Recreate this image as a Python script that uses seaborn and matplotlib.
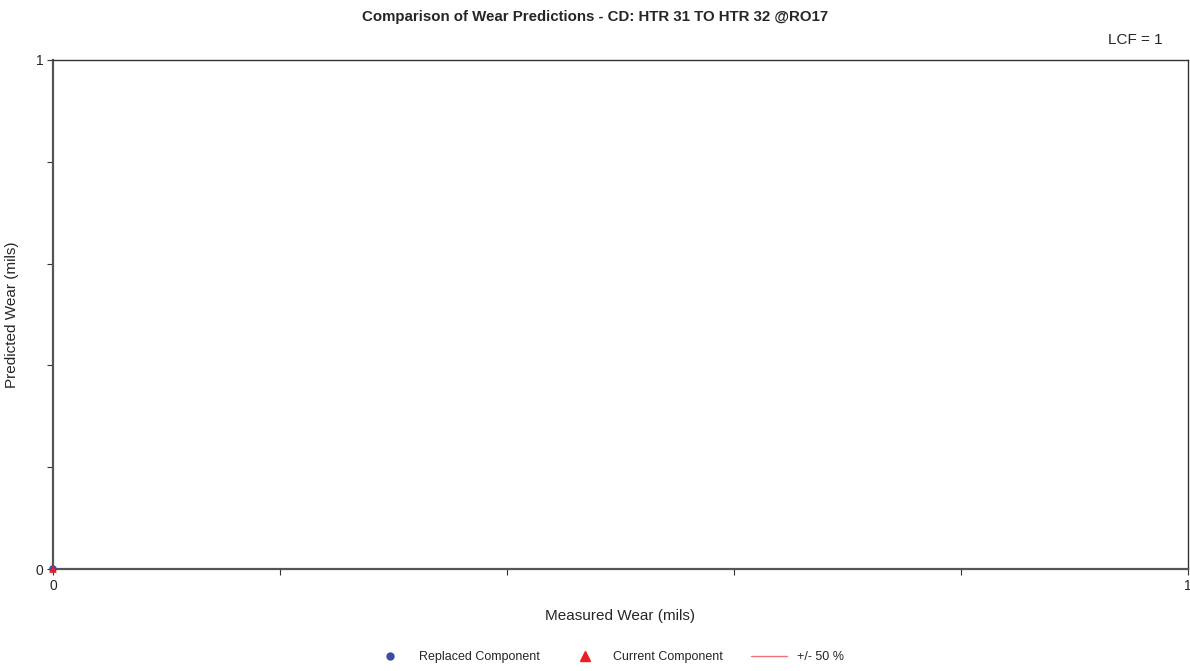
import matplotlib.pyplot as plt
import seaborn as sns
import pandas as pd
from matplotlib.lines import Line2D

sns.set_style("white")
plt.rcParams['font.family'] = ['Liberation Sans', 'DejaVu Sans']

# datos
medido_reemplazado = [0.0]
predicho_reemplazado = [0.0]
medido_actual = [0.0]
predicho_actual = [0.0]
banda_x = [0.0, 0.0]
banda_sup = [0.0, 0.0]
banda_inf = [0.0, 0.0]
lcf = 1

df_r = pd.DataFrame({'Medido': medido_reemplazado, 'Predicho': predicho_reemplazado})
df_a = pd.DataFrame({'Medido': medido_actual, 'Predicho': predicho_actual})

azul = '#3a4ca8'
rojo = '#ee1c24'
rosa = '#f0707a'

fig = plt.figure(figsize=(11.9, 6.71), dpi=100)
ax = fig.add_axes([0.0445, 0.152, 0.9535, 0.7586])

ax.plot(banda_x, banda_sup, color=rosa, lw=1)
ax.plot(banda_x, banda_inf, color=rosa, lw=1)
sns.scatterplot(data=df_r, x='Medido', y='Predicho', marker='o', color=azul,
                s=30, edgecolor='none', ax=ax, clip_on=False, zorder=5)
sns.scatterplot(data=df_a, x='Medido', y='Predicho', marker='^', color=rojo,
                s=30, edgecolor='none', ax=ax, clip_on=False, zorder=6)

ax.set_xlim(0, 1)
ax.set_ylim(0, 1)
ax.set_xticks([0, 0.2, 0.4, 0.6, 0.8, 1.0])
ax.set_xticklabels(['0', '', '', '', '', '1'])
ax.set_yticks([0, 0.2, 0.4, 0.6, 0.8, 1.0])
ax.set_yticklabels(['0', '', '', '', '', '1'])
ax.tick_params(axis='both', direction='out', length=4, width=0.8, color='#333333',
               labelsize=10, pad=3, bottom=True, left=True)
for s in ['left', 'bottom']:
    ax.spines[s].set_color('#555555')
    ax.spines[s].set_linewidth(1.6)
for s in ['top', 'right']:
    ax.spines[s].set_color('#333333')
    ax.spines[s].set_linewidth(1.0)

ax.set_xlabel('Measured Wear (mils)', fontsize=11, labelpad=12)
ax.set_ylabel('Predicted Wear (mils)', fontsize=11, labelpad=12)

fig.text(0.5, 0.974, 'Comparison of Wear Predictions - CD: HTR 31 TO HTR 32 @RO17',
         ha='center', va='center', fontsize=10.8, fontweight='bold')
fig.text(0.954, 0.94, f'LCF = {lcf}', ha='center', va='center', fontsize=11)

handles = [
    Line2D([], [], marker='o', color=azul, ls='none', markersize=5),
    Line2D([], [], marker='^', color=rojo, ls='none', markersize=7),
    Line2D([], [], color=rosa, lw=1),
]
etiquetas = ['Replaced Component', 'Current Component', '+/- 50 %']
fig.legend(handles, etiquetas, loc='center', bbox_to_anchor=(0.511, 0.021), ncol=3,
           frameon=False, fontsize=9, columnspacing=2.2, handlelength=2.9, handletextpad=0.8)

fig.savefig('out.png', dpi=100)
